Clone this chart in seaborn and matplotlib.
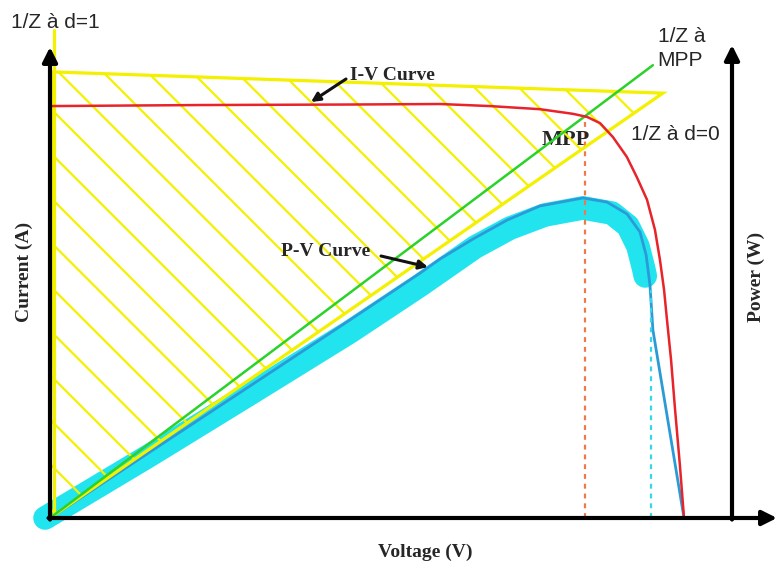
import numpy as np
import pandas as pd
import matplotlib
matplotlib.use("Agg")
import matplotlib.pyplot as plt
import seaborn as sns
from matplotlib.patches import Polygon
from matplotlib.collections import LineCollection

# ---------------- data ----------------
# I-V curve: voltage (V) / current (A)
iv_voltage = [0.0, 5.11, 10.22, 13.29, 14.99, 16.69, 17.82, 18.30, 18.74, 19.18,
              19.65, 19.99, 20.34, 20.61, 20.78, 20.92, 21.02, 21.16, 21.29,
              21.46, 21.60]
iv_current = [7.96, 7.98, 7.99, 8.00, 7.96, 7.90, 7.81, 7.75, 7.63, 7.36,
              6.98, 6.59, 6.15, 5.57, 4.99, 4.41, 3.83, 3.05, 2.13,
              1.02, 0.0]

# P-V curve: voltage (V) / power (W)
pv_voltage = [0.0, 3.41, 6.81, 10.22, 12.61, 13.29, 14.41, 15.57, 16.69, 18.16,
              18.98, 19.66, 20.10, 20.31, 20.44, 20.54, 21.60]
pv_power = [0.0, 20.6, 41.1, 61.7, 76.3, 80.7, 86.9, 92.8, 97.2, 99.7,
            98.4, 94.7, 89.1, 81.9, 72.6, 58.6, 0.0]

# cyan highlight drawn over the P-V curve
hl_voltage = [-0.17, 3.41, 6.81, 10.22, 12.61, 14.48, 15.67, 16.86, 18.16, 19.14,
              19.69, 20.03, 20.22, 20.28]
hl_power = [0.0, 19.6, 38.7, 58.0, 72.5, 84.4, 90.3, 94.4, 96.6, 95.0,
            91.0, 84.7, 77.9, 75.4]

# load line 1/Z at MPP
z_mpp_voltage = [0.0, 20.54]
z_mpp_current = [0.0, 8.75]

# operating region between 1/Z at d=1 and 1/Z at d=0
region_voltage = [0.0, 0.12, 20.88]
region_current = [0.0, 8.62, 8.21]
z_d1_voltage = [0.12, 0.12]
z_d1_current = [0.0, 9.43]

# marker lines
mpp_voltage, mpp_current = 18.23, 7.75
knee_voltage, knee_current = 20.48, 4.41

# ---------------- layout ----------------
W, H = 777, 565
KX, KY, KP = 0.034069, 0.019324, 0.311526   # units per pixel
OX, OY = 50, 518                             # origin in pixels

sns.set_theme(style="white")
plt.rcParams["font.family"] = ["Liberation Sans", "DejaVu Sans"]

fig = plt.figure(figsize=(W / 100, H / 100), dpi=100)
ax = fig.add_axes([0, 0, 1, 1])
ax2 = ax.twinx()
ax2.set_position([0, 0, 1, 1])

YELLOW = "#f3f000"
RED = "#e8232a"
GREEN = "#2ad22a"
BLUE = "#2b9bd8"
CYAN = "#22e4ef"

# cyan highlight (lowest layer of the power axes)
hl = pd.DataFrame({"V": hl_voltage, "P": hl_power})
sns.lineplot(data=hl, x="V", y="P", ax=ax2, sort=False, estimator=None,
             color=CYAN, lw=17, solid_capstyle="round", solid_joinstyle="round",
             zorder=1)

# P-V curve
pv = pd.DataFrame({"V": pv_voltage, "P": pv_power})
sns.lineplot(data=pv, x="V", y="P", ax=ax2, sort=False, estimator=None,
             color=BLUE, lw=2.0, zorder=5)

# draw current axes on top of the power axes so yellow/green sit over cyan
ax.set_zorder(ax2.get_zorder() + 1)
ax.patch.set_visible(False)

# dashed marker lines
ax.plot([mpp_voltage, mpp_voltage], [0, mpp_current], color="#ee7a4a",
        lw=1.6, ls=(0, (2.2, 2.2)), zorder=2)
ax.plot([knee_voltage, knee_voltage], [0, knee_current], color="#36d8e8",
        lw=1.6, ls=(0, (2.2, 2.2)), zorder=2)

# MPP text sits beneath the yellow lines
ax.text(542 / W, 1 - 140 / H, "MPP", transform=fig.transFigure,
        family=["Liberation Serif", "DejaVu Serif"], fontweight="bold",
        fontsize=16, va="center", ha="left", zorder=2.5)

# yellow hatched region
poly = Polygon(list(zip(region_voltage, region_current)), closed=True,
               fill=False, edgecolor=YELLOW, lw=2.3, joinstyle="miter", zorder=3)
ax.add_patch(poly)
segs = []
for c in np.arange(58 - 44.5 * 14, 800, 44.5):
    px = np.array([0.0, 800.0])
    py = px + c
    segs.append(np.column_stack([(px - OX) * KX, (OY - py) * KY]))
hatch = LineCollection(segs, colors=YELLOW, linewidths=1.6, zorder=3)
ax.add_collection(hatch)
hatch.set_clip_path(poly)
ax.plot(z_d1_voltage, z_d1_current, color=YELLOW, lw=2.3, zorder=3)

# load line at MPP
zm = pd.DataFrame({"V": z_mpp_voltage, "I": z_mpp_current})
sns.lineplot(data=zm, x="V", y="I", ax=ax, sort=False, estimator=None,
             color=GREEN, lw=1.8, zorder=4)

# I-V curve
iv = pd.DataFrame({"V": iv_voltage, "I": iv_current})
sns.lineplot(data=iv, x="V", y="I", ax=ax, sort=False, estimator=None,
             color=RED, lw=1.8, zorder=5)

ax.set_xlim(-OX * KX, (W - OX) * KX)
ax.set_ylim(-(H - OY) * KY, OY * KY)
ax2.set_ylim(-(H - OY) * KP, OY * KP)
for a in (ax, ax2):
    a.set_axis_off()
    a.set_xlabel("")
    a.set_ylabel("")

# axes arrows
def arrow(x0, y0, x1, y1, lw=3.0, ms=22):
    ax.annotate("", xy=(x1, y1), xytext=(x0, y0), xycoords="data",
                arrowprops=dict(arrowstyle="-|>", color="black", lw=lw,
                                mutation_scale=ms, shrinkA=0, shrinkB=0),
                zorder=6, annotation_clip=False)

arrow(0.0, -0.03, 0.0, (OY - 47) * KY)                  # current axis
arrow(-0.05, 0.0, (W - OX) * KX, 0.0)                   # voltage axis
arrow((732 - OX) * KX, -0.03, (732 - OX) * KX, (OY - 45) * KY)  # power axis

def fx(p):
    return p / W

def fy(p):
    return 1 - p / H

SERIF = ["Liberation Serif", "DejaVu Serif"]
SANS = ["Liberation Sans", "DejaVu Sans"]

fig.text(fx(11), fy(23), "1/Z à d=1", family=SANS, fontsize=15, va="center", ha="left")
fig.text(fx(658), fy(37), "1/Z à", family=SANS, fontsize=15, va="center", ha="left")
fig.text(fx(657), fy(61), "MPP", family=SANS, fontsize=15, va="center", ha="left")
fig.text(fx(631), fy(135), "1/Z à d=0", family=SANS, fontsize=15, va="center", ha="left")

fig.text(fx(350), fy(75), "I-V Curve", family=SERIF, fontweight="bold", fontsize=14,
         va="center", ha="left")
fig.text(fx(281), fy(252), "P-V Curve", family=SERIF, fontweight="bold", fontsize=14,
         va="center", ha="left")
fig.text(fx(24), fy(272), "Current (A)", family=SERIF, fontweight="bold", fontsize=14,
         va="center", ha="center", rotation=90)
fig.text(fx(756), fy(277), "Power (W)", family=SERIF, fontweight="bold", fontsize=14,
         va="center", ha="center", rotation=90)
fig.text(fx(425), fy(552), "Voltage (V)", family=SERIF, fontweight="bold", fontsize=14,
         va="center", ha="center")

# label pointers
def pointer(p0, p1):
    ax.annotate("", xy=((p1[0] - OX) * KX, (OY - p1[1]) * KY),
                xytext=((p0[0] - OX) * KX, (OY - p0[1]) * KY),
                arrowprops=dict(arrowstyle="-|>", color="#111111", lw=2.2,
                                mutation_scale=13, shrinkA=0, shrinkB=0),
                zorder=7)

pointer((346, 79), (311, 102))
pointer((381, 256), (428, 267))

fig.savefig("out.png", dpi=100)
